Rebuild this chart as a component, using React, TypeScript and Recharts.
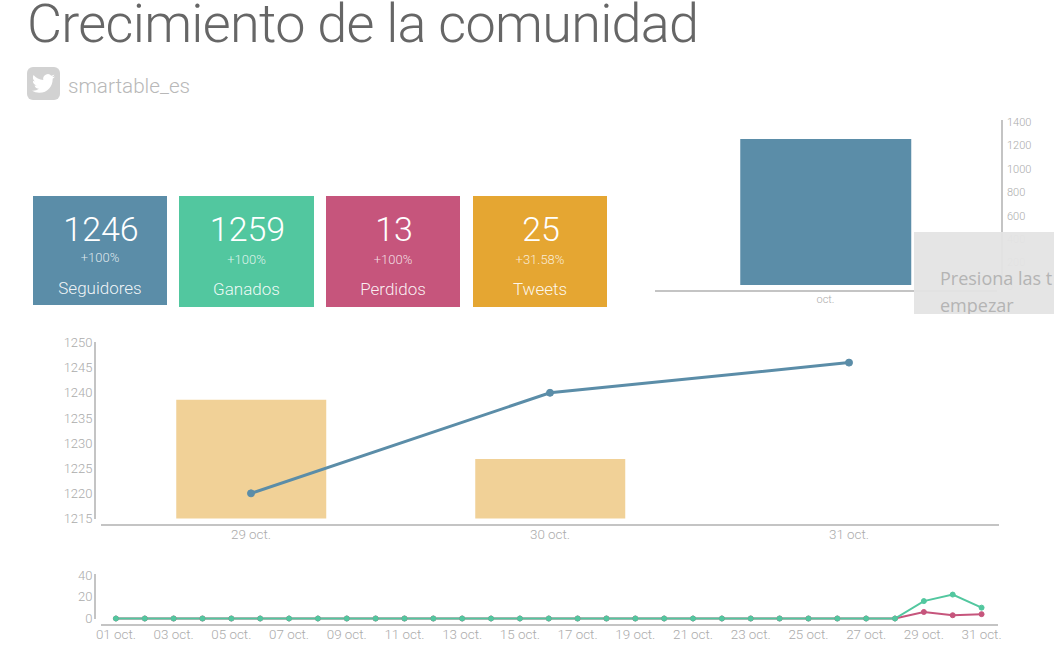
import { BarChart, Bar, ComposedChart, Line, XAxis, YAxis } from 'recharts'

const BLUE = '#5b8da8'
const GREEN = '#52c79f'
const PINK = '#c6557c'
const ORANGE = '#e5a632'
const AXIS = '#c4c4c4'
const LABEL = '#ababab'
const FONT = 'Roboto, sans-serif'

const tileValues = ['1246', '1259', '13', '25']
const tileChanges = ['+100%', '+100%', '+100%', '+31.58%']
const tileLabels = ['Seguidores', 'Ganados', 'Perdidos', 'Tweets']
const tileColors = [BLUE, GREEN, PINK, ORANGE]
const tileLefts = [33, 179, 326, 473]
const tileWidths = [134, 135, 134, 134]
const tileHeights = [109, 111, 111, 111]
const tileChangeTops = [250, 252, 252, 252]
const tileLabelTops = [277, 278, 278, 278]

const monthNames = ['oct.']
const monthFollowers = [1246]
const monthTicks = [0, 200, 400, 600, 800, 1000, 1200, 1400]

const recentDays = ['29 oct.', '30 oct.', '31 oct.']
const recentFollowers = [1220, 1240, 1246]
const recentTweets = [16, 8, 0]
const recentTicks = [1215, 1220, 1225, 1230, 1235, 1240, 1245, 1250]

const allDays = [
  '01 oct.', '02 oct.', '03 oct.', '04 oct.', '05 oct.', '06 oct.', '07 oct.', '08 oct.',
  '09 oct.', '10 oct.', '11 oct.', '12 oct.', '13 oct.', '14 oct.', '15 oct.', '16 oct.',
  '17 oct.', '18 oct.', '19 oct.', '20 oct.', '21 oct.', '22 oct.', '23 oct.', '24 oct.',
  '25 oct.', '26 oct.', '27 oct.', '28 oct.', '29 oct.', '30 oct.', '31 oct.',
]
const gained = [0, 0, 0, 0, 0, 0, 0, 0, 0, 0, 0, 0, 0, 0, 0, 0, 0, 0, 0, 0, 0, 0, 0, 0, 0, 0, 0, 0, 16, 22, 10]
const lost = [0, 0, 0, 0, 0, 0, 0, 0, 0, 0, 0, 0, 0, 0, 0, 0, 0, 0, 0, 0, 0, 0, 0, 0, 0, 0, 0, 0, 6, 3, 4]
const allTicks = [0, 20, 40]

const monthData = monthNames.map((name, i) => ({ name, followers: monthFollowers[i] }))
const recentData = recentDays.map((name, i) => ({ name, followers: recentFollowers[i], tweets: recentTweets[i] }))
const allData = allDays.map((name, i) => ({ name, gained: gained[i], lost: lost[i] }))

const BIRD =
  'M23.953 4.57a10 10 0 01-2.825.775 4.958 4.958 0 002.163-2.723c-.951.555-2.005.959-3.127 1.184a4.92 4.92 0 00-8.384 4.482C7.69 8.095 4.067 6.13 1.64 3.162a4.822 4.822 0 00-.666 2.475c0 1.71.87 3.213 2.188 4.096a4.904 4.904 0 01-2.228-.616v.06a4.923 4.923 0 003.946 4.827 4.996 4.996 0 01-2.212.085 4.936 4.936 0 004.604 3.417 9.867 9.867 0 01-6.102 2.105c-.39 0-.779-.023-1.17-.067a13.995 13.995 0 007.557 2.209c9.053 0 13.998-7.496 13.998-13.985 0-.21 0-.42-.015-.63A9.935 9.935 0 0024 4.59z'

const at = (left: number, top: number): React.CSSProperties => ({ position: 'absolute', left, top, whiteSpace: 'nowrap' })

function Rule({ left, top, width, height }: { left: number; top: number; width: number; height: number }) {
  return <div style={{ position: 'absolute', left, top, width, height, background: AXIS }} />
}

export default function App() {
  return (
    <div style={{ position: 'absolute', left: 0, top: 0, width: 1054, height: 652, overflow: 'hidden', background: '#fff', fontFamily: FONT, fontWeight: 300 }}>
      <div style={{ ...at(27, 1), fontSize: 54, lineHeight: '46px', letterSpacing: -0.7, color: '#666' }}>Crecimiento de la comunidad</div>

      <div style={{ ...at(27, 67), width: 33, height: 33, borderRadius: 6, background: '#d2d2d2' }}>
        <svg width="23" height="23" viewBox="0 0 24 24" style={{ position: 'absolute', left: 5, top: 5 }}>
          <path d={BIRD} fill="#fff" />
        </svg>
      </div>
      <div style={{ ...at(68, 73), fontSize: 20.7, lineHeight: '26px', color: '#b8b8b8' }}>smartable_es</div>

      {tileValues.map((value, i) => (
        <div key={tileLabels[i]}>
          <div style={{ position: 'absolute', left: tileLefts[i], top: 196, width: tileWidths[i], height: tileHeights[i], background: tileColors[i] }} />
          <div style={{ position: 'absolute', left: tileLefts[i] + 1, top: 208, width: tileWidths[i], textAlign: 'center', color: '#fff', fontSize: 34, lineHeight: '42px' }}>{value}</div>
          <div style={{ position: 'absolute', left: tileLefts[i], top: tileChangeTops[i], width: tileWidths[i], textAlign: 'center', color: 'rgba(255,255,255,0.8)', fontSize: 13, lineHeight: '16px' }}>{tileChanges[i]}</div>
          <div style={{ position: 'absolute', left: tileLefts[i], top: tileLabelTops[i], width: tileWidths[i], textAlign: 'center', color: 'rgba(255,255,255,0.92)', fontSize: 17, lineHeight: '22px' }}>{tileLabels[i]}</div>
        </div>
      ))}

      <div style={at(0, 110)}>
        <BarChart width={1054} height={200} data={monthData} margin={{ top: 11, right: 0, bottom: 0, left: 655 }} barCategoryGap="25%">
          <XAxis dataKey="name" height={25} axisLine={false} tickLine={false} tickSize={0} tickMargin={10} tick={{ fill: LABEL, fontSize: 11, fontFamily: FONT, fontWeight: 300 }} />
          <YAxis orientation="right" width={58} domain={[0, 1400]} ticks={monthTicks} axisLine={false} tickLine={false} tickSize={0} tickMargin={11} tick={{ fill: LABEL, fontSize: 11, fontFamily: FONT, fontWeight: 300, dy: 1 }} />
          <Bar dataKey="followers" fill={BLUE} isAnimationActive={false} />
        </BarChart>
      </div>
      <Rule left={655} top={290} width={342} height={2} />
      <Rule left={1001} top={120} width={2} height={165} />

      <div style={at(0, 330)}>
        <ComposedChart width={1054} height={230} data={recentData} margin={{ top: 12.5, right: 55.5, bottom: 11.5, left: 41.5 }} barCategoryGap="25%">
          <XAxis dataKey="name" height={30} axisLine={false} tickLine={false} tickSize={0} tickMargin={11} tick={{ fill: LABEL, fontSize: 13.4, fontFamily: FONT, fontWeight: 300 }} />
          <YAxis yAxisId="followers" width={60} domain={[1215, 1250]} ticks={recentTicks} axisLine={false} tickLine={false} tickSize={0} tickMargin={9} tick={{ fill: LABEL, fontSize: 13, fontFamily: FONT, fontWeight: 300 }} />
          <YAxis yAxisId="tweets" hide orientation="right" domain={[0, 23.7]} />
          <Bar yAxisId="tweets" dataKey="tweets" fill="#f1d197" isAnimationActive={false} />
          <Line yAxisId="followers" dataKey="followers" stroke={BLUE} strokeWidth={3} dot={{ r: 3.5, fill: BLUE, stroke: BLUE, strokeWidth: 1 }} isAnimationActive={false} />
        </ComposedChart>
      </div>
      <Rule left={101} top={524} width={898} height={2} />
      <Rule left={94} top={342} width={2} height={177} />

      <div style={at(0, 560)}>
        <ComposedChart width={1054} height={92} data={allData} margin={{ top: 15, right: 58, bottom: 3.5, left: 41.5 }}>
          <XAxis dataKey="name" scale="band" height={30} interval={1} axisLine={false} tickLine={false} tickSize={0} tickMargin={11} tick={{ fill: LABEL, fontSize: 13.4, fontFamily: FONT, fontWeight: 300 }} />
          <YAxis width={60} domain={[0, 40]} ticks={allTicks} axisLine={false} tickLine={false} tickSize={0} tickMargin={9} tick={{ fill: LABEL, fontSize: 13, fontFamily: FONT, fontWeight: 300 }} />
          <Line dataKey="lost" stroke={PINK} strokeWidth={2} dot={{ r: 2.5, fill: PINK, stroke: PINK, strokeWidth: 1 }} isAnimationActive={false} />
          <Line dataKey="gained" stroke={GREEN} strokeWidth={2} dot={{ r: 2.5, fill: GREEN, stroke: GREEN, strokeWidth: 1 }} isAnimationActive={false} />
        </ComposedChart>
      </div>
      <Rule left={101} top={624} width={897} height={2} />
      <Rule left={94} top={574} width={2} height={45} />

      <div style={{ position: 'absolute', left: 914, top: 232, width: 140, height: 82, overflow: 'hidden', background: 'rgba(228,228,228,0.95)', color: '#b4b4b4', fontFamily: '"Open Sans", sans-serif', fontWeight: 400, fontSize: 18, lineHeight: '28px' }}>
        <div style={at(26, 32)}>Presiona las t</div>
        <div style={at(26, 59)}>empezar</div>
      </div>
    </div>
  )
}
